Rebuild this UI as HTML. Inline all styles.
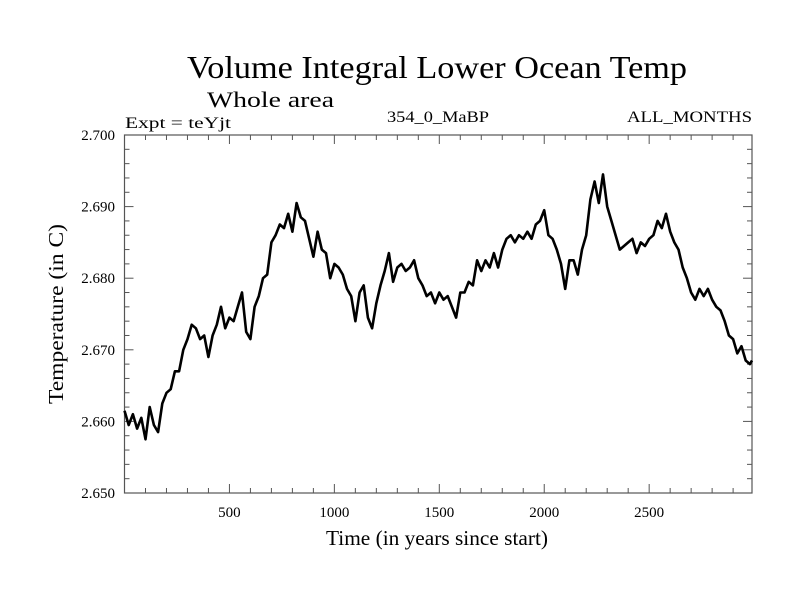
<!DOCTYPE html>
<html><head><meta charset="utf-8"><style>
html,body{margin:0;padding:0;background:#fff;}
svg{display:block;font-family:"Liberation Serif",serif;}
</style></head><body>
<svg id="chart" width="800" height="600">
<text x="437" y="78" text-anchor="middle" font-size="32" textLength="500" lengthAdjust="spacingAndGlyphs">Volume Integral Lower Ocean Temp</text>
<text x="207" y="107" font-size="22" textLength="127" lengthAdjust="spacingAndGlyphs">Whole area</text>
<text x="125" y="128" font-size="16" textLength="106" lengthAdjust="spacingAndGlyphs">Expt = teYjt</text>
<text x="438" y="122" text-anchor="middle" font-size="16" textLength="102" lengthAdjust="spacingAndGlyphs">354_0_MaBP</text>
<text x="752" y="122" text-anchor="end" font-size="16" textLength="125" lengthAdjust="spacingAndGlyphs">ALL_MONTHS</text>
<text x="437" y="545" text-anchor="middle" font-size="21" textLength="222" lengthAdjust="spacingAndGlyphs">Time (in years since start)</text>
<text transform="translate(63,314) rotate(-90)" text-anchor="middle" font-size="21" textLength="180" lengthAdjust="spacingAndGlyphs">Temperature (in C)</text>
<g id="axes"></g>
<g id="series"></g>
</svg>
<script>
const xTicks=[500,1000,1500,2000,2500];
const yTicks=[2.650,2.660,2.670,2.680,2.690,2.700];
const yTickLabels=["2.650","2.660","2.670","2.680","2.690","2.700"];
const years=[0,20,40,60,80,100,120,140,160,180,200,220,240,260,280,300,320,340,360,380,400,420,440,460,480,500,520,540,560,580,600,620,640,660,680,700,720,740,760,780,800,820,840,860,880,900,920,940,960,980,1000,1020,1040,1060,1080,1100,1120,1140,1160,1180,1200,1220,1240,1260,1280,1300,1320,1340,1360,1380,1400,1420,1440,1460,1480,1500,1520,1540,1560,1580,1600,1620,1640,1660,1680,1700,1720,1740,1760,1780,1800,1820,1840,1860,1880,1900,1920,1940,1960,1980,2000,2020,2040,2060,2080,2100,2120,2140,2160,2180,2200,2220,2240,2260,2280,2300,2320,2340,2360,2380,2400,2420,2440,2460,2480,2500,2520,2540,2560,2580,2600,2620,2640,2660,2680,2700,2720,2740,2760,2780,2800,2820,2840,2860,2880,2900,2920,2940,2960,2980,2990];
const temps=[2.6615,2.6595,2.6610,2.6590,2.6605,2.6575,2.6620,2.6595,2.6585,2.6625,2.6640,2.6645,2.6670,2.6670,2.6700,2.6715,2.6735,2.6730,2.6715,2.6720,2.6690,2.6720,2.6735,2.6760,2.6730,2.6745,2.6740,2.6760,2.6780,2.6725,2.6715,2.6760,2.6775,2.6800,2.6805,2.6850,2.6860,2.6875,2.6870,2.6890,2.6865,2.6905,2.6885,2.6880,2.6855,2.6830,2.6865,2.6840,2.6835,2.6800,2.6820,2.6815,2.6805,2.6785,2.6775,2.6740,2.6780,2.6790,2.6745,2.6730,2.6765,2.6790,2.6810,2.6835,2.6795,2.6815,2.6820,2.6810,2.6815,2.6825,2.6800,2.6790,2.6775,2.6780,2.6765,2.6780,2.6770,2.6775,2.6760,2.6745,2.6780,2.6780,2.6795,2.6790,2.6825,2.6810,2.6825,2.6815,2.6835,2.6815,2.6840,2.6855,2.6860,2.6850,2.6860,2.6855,2.6865,2.6855,2.6875,2.6880,2.6895,2.6860,2.6855,2.6840,2.6820,2.6785,2.6825,2.6825,2.6805,2.6840,2.6860,2.6910,2.6935,2.6905,2.6945,2.6900,2.6880,2.6860,2.6840,2.6845,2.6850,2.6855,2.6835,2.6850,2.6845,2.6855,2.6860,2.6880,2.6870,2.6890,2.6865,2.6850,2.6840,2.6815,2.6800,2.6780,2.6770,2.6785,2.6775,2.6785,2.6770,2.6760,2.6755,2.6740,2.6720,2.6715,2.6695,2.6705,2.6685,2.6680,2.6685];
const X0=124.5,X1=752,XMIN=0,XMAX=2990,Y0=493,Y1=135,YMIN=2.65,YMAX=2.70;
function xs(v){return X0+(v-XMIN)/(XMAX-XMIN)*(X1-X0);}
function ys(v){return Y0-(v-YMIN)/(YMAX-YMIN)*(Y0-Y1);}
const NS="http://www.w3.org/2000/svg";
const axes=document.getElementById('axes');
function mk(tag,attrs,parent){const e=document.createElementNS(NS,tag);for(const k in attrs)e.setAttribute(k,attrs[k]);parent.appendChild(e);return e;}
const frame=mk('rect',{x:X0,y:Y1,width:X1-X0,height:Y0-Y1,fill:'none',stroke:'#555','stroke-width':1.2},axes);


for(let v=100;v<XMAX;v+=100){
  const major=v%500===0,L=major?9:5,x=xs(v);
  const t1=mk('line',{x1:x,x2:x,y1:Y0,y2:Y0-L,stroke:'#555','stroke-width':1},axes);
  
  
  const t2=mk('line',{x1:x,x2:x,y1:Y1,y2:Y1+L,stroke:'#555','stroke-width':1},axes);
  
  
}
xTicks.forEach(v=>{
  const t=mk('text',{x:xs(v),y:517,'text-anchor':'middle','font-size':15},axes);
  t.textContent=v;
  
  
});
for(let i=1;i<25;i++){
  const v=YMIN+i*0.002,major=i%5===0,L=major?9:5,y=ys(v);
  const t1=mk('line',{x1:X0,x2:X0+L,y1:y,y2:y,stroke:'#555','stroke-width':1},axes);
  
  
  const t2=mk('line',{x1:X1,x2:X1-L,y1:y,y2:y,stroke:'#555','stroke-width':1},axes);
  
  
}
yTicks.forEach((v,i)=>{
  const t=mk('text',{x:115,y:ys(v)+5,'text-anchor':'end','font-size':15},axes);
  t.textContent=yTickLabels[i];
  
  
});
const pts=years.map((yr,i)=>xs(yr).toFixed(1)+','+ys(temps[i]).toFixed(1)).join(' ');
const line=mk('polyline',{points:pts,fill:'none',stroke:'#000','stroke-width':2.6,'stroke-linejoin':'round'},document.getElementById('series'));


</script>
</body></html>
